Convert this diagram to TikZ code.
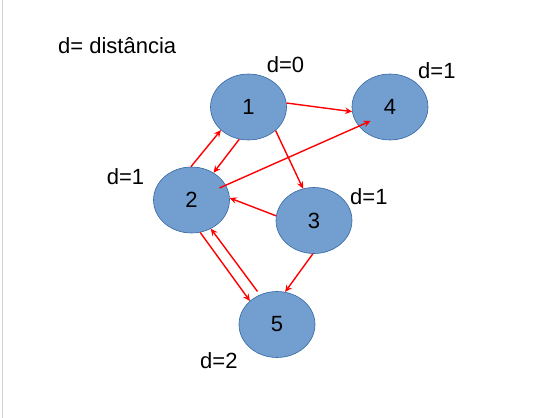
\documentclass[tikz,border=0pt]{standalone}
\usepackage{fontspec}
\setmainfont{Liberation Sans}
\usetikzlibrary{shapes.geometric,arrows.meta}
\definecolor{vfill}{HTML}{729FCF}
\definecolor{vline}{HTML}{3465A4}
\definecolor{edgered}{HTML}{FF0000}
\begin{document}
\begin{tikzpicture}[x=1pt,y=1pt,
  vertex/.style={ellipse,fill=vfill,draw=vline,line width=0.6pt,
    minimum width=76pt,minimum height=66pt,inner sep=0pt,
    font=\fontsize{22}{26}\selectfont},
  label text/.style={anchor=base west,inner sep=0pt,
    font=\fontsize{22}{26}\selectfont},
  edge/.style={draw=edgered,line width=1.4pt,
    -{Stealth[length=7pt,width=6.5pt,inset=2.5pt]}}]
  \useasboundingbox (0,0) rectangle (547,418);
  % page margin rule
  \draw[gray!35,line width=1pt] (2.5,0) -- (2.5,418);

  % vertices
  \node[vertex] (n1) at (248.5,311) {1};
  \node[vertex] (n2) at (191.5,218) {2};
  \node[vertex] (n3) at (314,197.5) {3};
  \node[vertex] (n4) at (390,311) {4};
  \node[vertex] (n5) at (277,93.5) {5};

  % distance labels
  \node[label text] (title) at (58,364) {d= distância};
  \node[label text] (d1) at (266.7,345.3) {d=0};
  \node[label text] (d4) at (418,339.7) {d=1};
  \node[label text] (d2) at (106.7,233) {d=1};
  \node[label text] (d3) at (350,213) {d=1};
  \node[label text] (d5) at (200,49) {d=2};

  % directed edges
  \draw[edge] (n1.6) -- (n4.187);
  \draw[edge] (n1.-41) -- (n3.109);
  \draw[edge] (n1.254) -- (n2.51);
  \draw[edge] (n2.91) -- (n1.220);
  \draw[edge] ([shift={(28,12)}]n2.center) -- ([shift={(-19.5,-14)}]n4.center);
  \draw[edge] (n3.173) -- (n2.3);
  \draw[edge] (n3.268) -- (n5.76);
  \draw[edge] (n2.285) -- (n5.139);
  \draw[edge] ([shift={(-19.5,33)}]n5.center) -- (n2.304);
\end{tikzpicture}
\end{document}
